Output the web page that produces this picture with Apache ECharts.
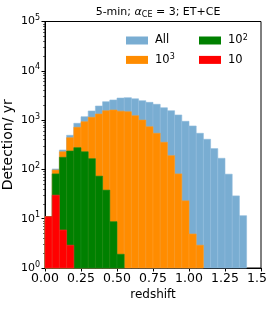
<!DOCTYPE html>
<html><head><meta charset="utf-8">
<script src="https://cdn.jsdelivr.net/npm/echarts@6/dist/echarts.min.js"></script>
<style>html,body{margin:0;padding:0;background:#fff}#c{width:266px;height:316px}</style>
</head><body><div id="c"></div>
<script>
// bin left edges (width 0.05)
const binLeft = [0.00,0.05,0.10,0.15,0.20,0.25,0.30,0.35,0.40,0.45,0.50,0.55,0.60,0.65,0.70,0.75,0.80,0.85,0.90,0.95,1.00,1.05,1.10,1.15,1.20,1.25,1.30,1.35];
const binWidth = 0.05;
const allVals  = [11,102,247,492,861,1172,1530,1930,2360,2560,2800,2850,2700,2475,2290,2090,1780,1550,1270,945,760,540,408,264,168,80,29,11.5];
const k3Vals   = [11,97,228,440,714,928,1140,1330,1550,1600,1520,1480,1230,1000,735,540,355,190,81,23,4.9,2.9];
const k2Vals   = [11,81,176,236,276,228,165,73,38,8.7,1.9];
const k1Vals   = [11,30,5.9,2.9];
const seriesNames = ['All','10^3','10^2','10'];
const xTicks = [0,0.25,0.5,0.75,1.0,1.25,1.5];
const yTickExps = [0,1,2,3,4,5];
const minorTicks = [];
for (const e of [0,1,2,3,4]) for (let m=2;m<=9;m++) minorTicks.push(m*Math.pow(10,e));

const colors = ['#79add2','#ff8c00','#008000','#ff0000'];
const edgeColors = ['#8dbadb','#ff9a22','#1a8c1a','#ff2a2a'];

function mkData(vals){ return vals.map((v,i)=>[binLeft[i], binLeft[i]+binWidth, v]); }

function renderBar(color, edge){
  return function(params, api){
    const x0=api.value(0), x1=api.value(1), y=api.value(2);
    const p0=api.coord([x0,y]); const p1=api.coord([x1,1]);
    return {type:'rect', shape:{x:p0[0], y:p0[1], width:p1[0]-p0[0], height:p1[1]-p0[1]},
      style:{fill:color, stroke:edge, lineWidth:0.6}};
  };
}
const font = 'DejaVu Sans';
function legendFmt(n){ if(n.indexOf('^')>0){const p=n.split('^'); return p[0]+'{sup|'+p[1]+'}';} return n; }
const richSup = {sup:{fontSize:8, fontFamily:font, color:'#000', padding:[0,0,7,0]}};
const legendText = {fontFamily:font, fontSize:11.5, color:'#000', lineHeight:16, padding:[0,0,0,2],
  rich:{sup:{fontSize:8, fontFamily:font, color:'#000', lineHeight:16, padding:[0,0,6,0]}}};

const chart = echarts.init(document.getElementById('c'), null, {renderer:'canvas'});
const vals = [allVals,k3Vals,k2Vals,k1Vals];
chart.setOption({
  animation:false,
  backgroundColor:'#fff',
  title:{ text:'5-min; {it|α}{sub|CE} = 3; ET+CE', left:153, textAlign:'center', top:1,
    textStyle:{fontFamily:font, fontSize:11, fontWeight:'normal', color:'#000',
      rich:{it:{fontFamily:font, fontStyle:'italic', fontSize:11, color:'#000'},
            sub:{fontFamily:font, fontSize:8, color:'#000', padding:[5,0,0,0]}}}},
  grid:{left:45, right:5, top:21.5, bottom:48, show:true, borderColor:'#000', borderWidth:1, backgroundColor:'transparent',
    containLabel:false, outerBoundsMode:'none'},
  legend:[
    {data:['All','10^3'], orient:'vertical', left:126, top:32.5, padding:0, icon:'rect', itemWidth:22, itemHeight:8, itemGap:3.4,
     formatter:legendFmt, textStyle:legendText},
    {data:['10^2','10'], orient:'vertical', left:199, top:32.5, padding:0, icon:'rect', itemWidth:22, itemHeight:8, itemGap:3.4,
     formatter:legendFmt, textStyle:legendText}
  ],
  xAxis:{type:'value', min:0, max:1.5, interval:0.25, name:'redshift', nameLocation:'middle', nameGap:21, nameMoveOverlap:false,
    nameTextStyle:{fontFamily:font, fontSize:12, color:'#000'},
    axisLine:{show:true, lineStyle:{color:'#000', width:1}},
    axisTick:{show:true, length:3.5, lineStyle:{color:'#000'}},
    axisLabel:{fontFamily:font, fontSize:12.5, color:'#000', margin:4, showMaxLabel:true,
      formatter:v=>v.toFixed(2)},
    splitLine:{show:false}},
  yAxis:[
    {type:'log', logBase:10, min:1, max:100000, name:'Detection/ yr', nameLocation:'middle', nameGap:29, nameMoveOverlap:false,
     nameTextStyle:{fontFamily:font, fontSize:14, color:'#000', lineHeight:16},
     axisLine:{show:true, lineStyle:{color:'#000', width:1}},
     axisTick:{show:true, length:3.5, lineStyle:{color:'#000'}},
     axisLabel:{fontFamily:font, fontSize:11, color:'#000', margin:5,
       formatter:v=>'10{sup|'+Math.round(Math.log10(v))+'}', rich:richSup},
     splitLine:{show:false}},
    {type:'log', logBase:10, min:1, max:100000, position:'left',
     axisLine:{show:false}, axisLabel:{show:false}, splitLine:{show:false},
     axisTick:{show:true, length:2, lineStyle:{color:'#000', width:0.6}, customValues:minorTicks}}
  ],
  series: vals.map((v,i)=>({type:'custom', name:seriesNames[i], renderItem:renderBar(colors[i],edgeColors[i]),
    itemStyle:{color:colors[i]}, encode:{x:[0,1], y:2}, data:mkData(v), z:2+i}))
});
</script></body></html>
